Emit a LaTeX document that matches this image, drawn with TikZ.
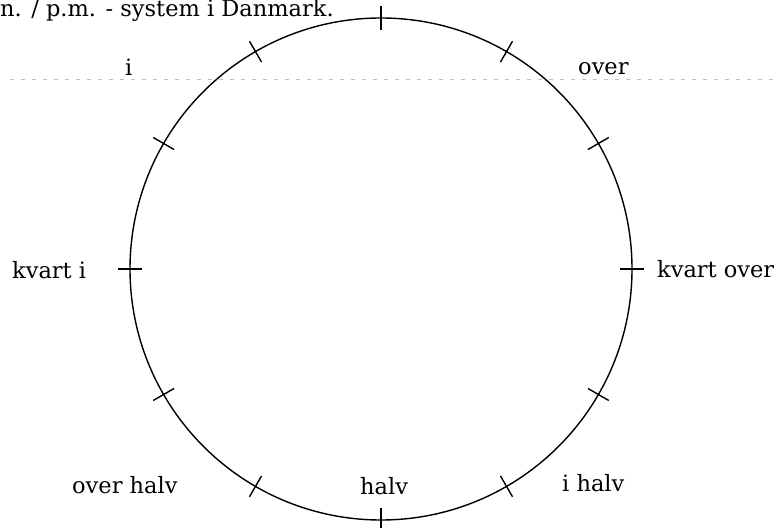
\documentclass[tikz,border=0pt]{standalone}
\usepackage{fontspec}
\setmainfont{DejaVu Serif}
\begin{document}
\begin{tikzpicture}[x=1pt,y=1pt,
  lbl/.style={font=\fontsize{22.5}{26}\selectfont, inner sep=0pt, anchor=base west},
  tickmark/.style={line width=1.4pt},
  foldline/.style={gray!50, line width=0.6pt, dash pattern=on 4pt off 7pt}]
\useasboundingbox (0,0) rectangle (781,527);
\clip (0,0) rectangle (781,527);
\draw[foldline] (10,448) -- (775,448);
\node[circle, draw, line width=1.4pt, minimum size=502pt, inner sep=0pt] (clock) at (381,258) {};
\foreach \a in {0,30,...,330} {
  \draw[tickmark, shift={(clock.center)}] (\a:239) -- (\a:263);
}
\node[lbl] (title) at (0,510) {n. / p.m. - system i Danmark.};
\node[lbl] (i) at (125,451) {i};
\node[lbl] (over) at (578,452) {over};
\node[lbl] (kvarti) at (12,248) {kvart i};
\node[lbl] (kvartover) at (657,249) {kvart over};
\node[lbl] (overhalv) at (72,34) {over halv};
\node[lbl] (halv) at (360,32) {halv};
\node[lbl] (ihalv) at (562,35) {i halv};
\end{tikzpicture}
\end{document}
